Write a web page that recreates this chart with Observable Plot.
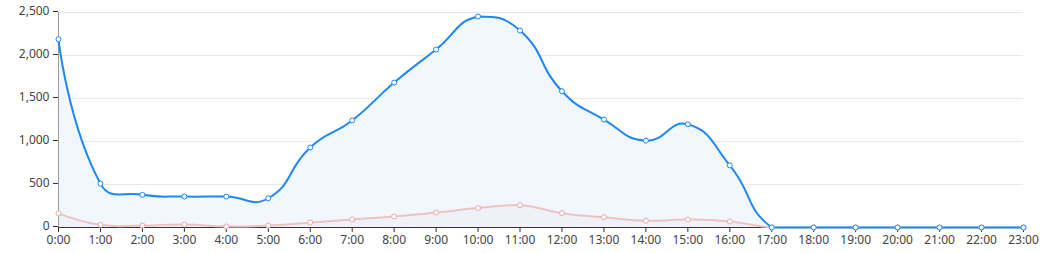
<!DOCTYPE html>
<html>
<head>
<meta charset="utf-8">
<script src="https://cdn.jsdelivr.net/npm/d3@7"></script>
<script src="https://cdn.jsdelivr.net/npm/@observablehq/plot@0.6"></script>
<style>
  body { margin: 0; background: #fff; }
  svg { display: block; }
</style>
</head>
<body>
<div id="chart"></div>
<script>
const hours = d3.range(0, 24);
const hourLabels = hours.map(h => `${h}:00`);
const seriesA = [2190, 510, 380, 360, 360, 340, 930, 1245, 1685, 2070, 2453, 2290, 1585, 1255, 1010, 1200, 722, 0, 0, 0, 0, 0, 0, 0];
const seriesB = [165, 31, 23, 35, 12, 23, 58, 93, 128, 174, 227, 260, 167, 120, 78, 93, 70, 0, 0, 0, 0, 0, 0, 0];
const yTicks = [0, 500, 1000, 1500, 2000, 2500];

const dataA = hours.map((h, i) => ({h, v: seriesA[i]}));
const dataB = hours.map((h, i) => ({h, v: seriesB[i]}));

const blue = "#1e88f0";
const pink = "#efc2c2";

// Smooth curve (bezier with control points constrained to the points' bounding box)
function SmoothCurve(context) { this._context = context; }
SmoothCurve.prototype = {
  areaStart() { this._line = 0; },
  areaEnd() { this._line = NaN; },
  lineStart() { this._pts = []; },
  point(x, y) { this._pts.push([+x, +y]); },
  lineEnd() {
    const ctx = this._context, pts = this._pts, n = pts.length, smooth = 0.5;
    if (n) {
      let minX = Infinity, minY = Infinity, maxX = -Infinity, maxY = -Infinity;
      for (const [x, y] of pts) {
        if (x < minX) minX = x; if (x > maxX) maxX = x;
        if (y < minY) minY = y; if (y > maxY) maxY = y;
      }
      const clampX = v => Math.max(minX, Math.min(maxX, v));
      const clampY = v => Math.max(minY, Math.min(maxY, v));
      if (this._line) ctx.lineTo(pts[0][0], pts[0][1]); else ctx.moveTo(pts[0][0], pts[0][1]);
      let cp0 = [pts[0][0], pts[0][1]];
      for (let i = 1; i < n; i++) {
        const p = pts[i], prev = pts[i - 1], next = pts[i + 1];
        let cp1, ratio = 0.5, vx = 0, vy = 0;
        if (!next) {
          cp1 = [p[0], p[1]];
        } else {
          vx = next[0] - prev[0]; vy = next[1] - prev[1];
          const lp = Math.hypot(p[0] - prev[0], p[1] - prev[1]);
          const ln = Math.hypot(next[0] - p[0], next[1] - p[1]);
          ratio = (lp + ln) ? ln / (ln + lp) : 0.5;
          cp1 = [p[0] - vx * smooth * (1 - ratio), p[1] - vy * smooth * (1 - ratio)];
        }
        cp0 = [clampX(cp0[0]), clampY(cp0[1])];
        cp1 = [clampX(cp1[0]), clampY(cp1[1])];
        ctx.bezierCurveTo(cp0[0], cp0[1], cp1[0], cp1[1], p[0], p[1]);
        cp0 = [p[0] + vx * smooth * ratio, p[1] + vy * smooth * ratio];
      }
    }
    if (this._line || (this._line !== 0 && n === 1)) ctx.closePath();
    this._line = 1 - this._line;
  }
};
const smoothCurve = context => new SmoothCurve(context);

const chart = Plot.plot({
  width: 1047,
  height: 253,
  marginLeft: 58,
  marginRight: 24,
  marginTop: 12,
  marginBottom: 26,
  style: {fontFamily: "'Noto Sans', sans-serif", fontSize: "12px", color: "#444", background: "#fff"},
  x: {domain: [0, 23], label: null},
  y: {domain: [0, 2500], label: null},
  marks: [
    Plot.gridY(yTicks, {stroke: "#e8e8e8", strokeOpacity: 1}),
    Plot.areaY(dataA, {x: "h", y: "v", curve: smoothCurve, fill: "#f2f7fe"}),
    Plot.areaY(dataB, {x: "h", y: "v", curve: smoothCurve, fill: "#eef2f8"}),
    Plot.ruleY([0], {stroke: "#333"}),
    Plot.ruleX([0], {stroke: "#999"}),
    Plot.axisX({ticks: hours, tickFormat: d => hourLabels[d], tickSize: 5, tickPadding: 3, stroke: "#333"}),
    Plot.axisY({ticks: yTicks, tickFormat: d3.format(","), tickSize: 5, tickPadding: 4, stroke: "#333", dy: -1}),
    Plot.line(dataB, {x: "h", y: "v", curve: smoothCurve, stroke: pink, strokeWidth: 2}),
    Plot.line(dataA, {x: "h", y: "v", curve: smoothCurve, stroke: blue, strokeWidth: 2}),
    Plot.dot(dataB, {x: "h", y: "v", r: 2.5, fill: "#fff", stroke: "#eba8a8", strokeWidth: 1}),
    Plot.dot(dataA, {x: "h", y: "v", r: 2.5, fill: "#fff", stroke: blue, strokeWidth: 1})
  ]
});
document.getElementById("chart").appendChild(chart);
</script>
</body>
</html>
